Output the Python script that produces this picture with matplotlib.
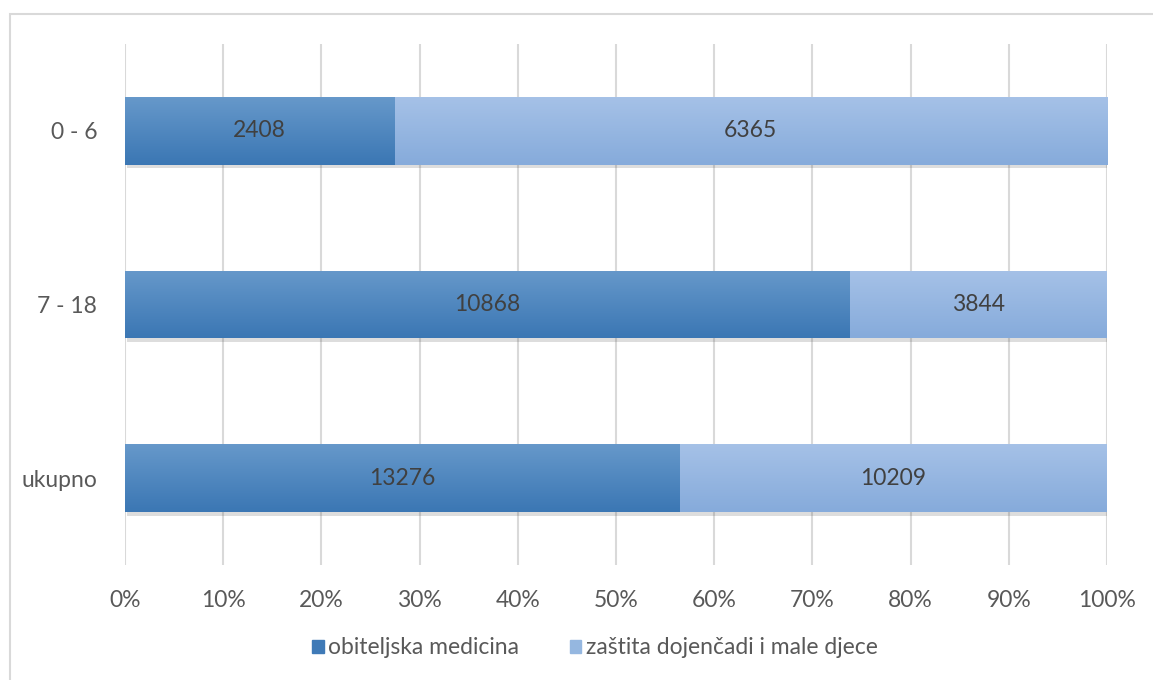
import matplotlib

matplotlib.use("Agg")
import matplotlib.pyplot as plt
import matplotlib.patheffects as pe
import numpy as np
from matplotlib.colors import LinearSegmentedColormap
from matplotlib.patches import Rectangle

# Data
categories = ["0 - 6", "7 - 18", "ukupno"]
obiteljska = [2408, 10868, 13276]
zastita = [6365, 3844, 10209]
series_names = ["obiteljska medicina", "zaštita dojenčadi i male djece"]
ticks = [0, 10, 20, 30, 40, 50, 60, 70, 80, 90, 100]

plt.rcParams["font.family"] = ["Lato", "DejaVu Sans"]
TXT = "#595959"
FS = 16.5

obit = np.array(obiteljska, dtype=float)
zast = np.array(zastita, dtype=float)
tot = obit + zast
p1 = obit / tot * 100
p2 = zast / tot * 100

fig = plt.figure(figsize=(11.53, 6.8), dpi=100)
ax = fig.add_axes([125 / 1153, 1 - 565 / 680, 982 / 1153, 521 / 680])

y = np.arange(len(categories))
shadow = [pe.SimplePatchShadow(offset=(1.5, -2.5), alpha=0.18, shadow_rgbFace="#444444"), pe.Normal()]
b1 = ax.barh(y, p1, height=0.39, color="#4a86c2", zorder=3, path_effects=shadow)
b2 = ax.barh(y, p2, left=p1, height=0.39, color="#95b7e0", zorder=3, path_effects=shadow)

# vertical gradients clipped to each bar (light on top, darker at bottom)
cm_dark = LinearSegmentedColormap.from_list("d", ["#6698ca", "#3b77b4"])
cm_light = LinearSegmentedColormap.from_list("l", ["#a5c1e7", "#86abdb"])
grad = np.linspace(0, 1, 64).reshape(-1, 1)
for bars, cm in ((b1, cm_dark), (b2, cm_light)):
    for patch in bars:
        x0, y0 = patch.get_x(), patch.get_y()
        w, h = patch.get_width(), patch.get_height()
        im = ax.imshow(grad, cmap=cm, aspect="auto", extent=(x0, x0 + w, y0, y0 + h),
                       origin="lower", zorder=3.5)
        im.set_clip_path(patch)

for i in range(len(categories)):
    ax.text(p1[i] / 2, y[i], f"{obiteljska[i]}", ha="center", va="center",
            fontsize=FS, color="#404040", zorder=5)
    ax.text(p1[i] + p2[i] / 2, y[i], f"{zastita[i]}", ha="center", va="center",
            fontsize=FS, color="#404040", zorder=5)

ax.set_xlim(0, 100)
ax.set_ylim(len(categories) - 0.5, -0.5)
ax.set_xticks(ticks)
ax.set_xticklabels([f"{t}%" for t in ticks])
ax.set_yticks(y)
ax.set_yticklabels(categories)
ax.tick_params(axis="both", length=0, labelsize=FS, labelcolor=TXT)
ax.tick_params(axis="x", pad=18)
ax.tick_params(axis="y", pad=20)
ax.grid(axis="x", color="#d9d9d9", linewidth=1.5, zorder=0)
ax.set_axisbelow(True)
for s in ax.spines.values():
    s.set_visible(False)

handles = [Rectangle((0, 0), 1, 1, color="#3f7ab7"), Rectangle((0, 0), 1, 1, color="#95b7e0")]
fig.legend(handles, series_names, loc="center", bbox_to_anchor=(595 / 1153, 1 - 648 / 680),
           ncol=2, frameon=False, fontsize=FS, labelcolor=TXT, handlelength=0.5,
           handleheight=0.5, handletextpad=0.2, columnspacing=2.2)

# chart area border
fig.add_artist(Rectangle((10 / 1153, -0.1), 1.2, 1 - 14 / 680 + 0.1, transform=fig.transFigure,
                         fill=False, edgecolor="#d9d9d9", linewidth=1.5))

fig.savefig("out.png", dpi=100)
